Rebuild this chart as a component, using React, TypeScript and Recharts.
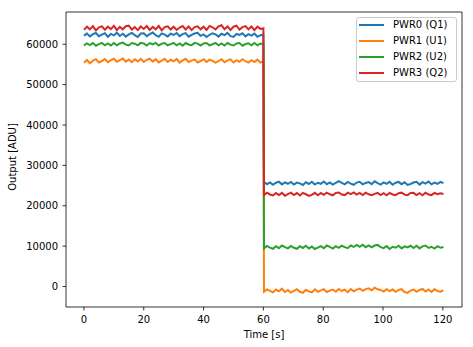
import React from 'react';
import {
    LineChart,
    Line,
    XAxis,
    YAxis,
    Legend,
    ReferenceArea,
} from 'recharts';

// series names and colours (matplotlib tab10)
const seriesNames = ['PWR0 (Q1)', 'PWR1 (U1)', 'PWR2 (U2)', 'PWR3 (Q2)'];
const seriesColors = ['#1f77b4', '#ff7f0e', '#2ca02c', '#d62728'];

const xTicks = [0, 20, 40, 60, 80, 100, 120];
const yTicks = [0, 10000, 20000, 30000, 40000, 50000, 60000];

// sample times [s]: first block 0..60, second block after the step
const timeBefore = [
    0, 1, 2, 3, 4, 5, 6, 7, 8, 9,
    10, 11, 12, 13, 14, 15, 16, 17, 18, 19,
    20, 21, 22, 23, 24, 25, 26, 27, 28, 29,
    30, 31, 32, 33, 34, 35, 36, 37, 38, 39,
    40, 41, 42, 43, 44, 45, 46, 47, 48, 49,
    50, 51, 52, 53, 54, 55, 56, 57, 58, 59,
    60,
];
const timeAfter = [
    60.2, 61.2, 62.2, 63.2, 64.2, 65.2, 66.2, 67.2, 68.2, 69.2,
    70.2, 71.2, 72.2, 73.2, 74.2, 75.2, 76.2, 77.2, 78.2, 79.2,
    80.2, 81.2, 82.2, 83.2, 84.2, 85.2, 86.2, 87.2, 88.2, 89.2,
    90.2, 91.2, 92.2, 93.2, 94.2, 95.2, 96.2, 97.2, 98.2, 99.2,
    100.2, 101.2, 102.2, 103.2, 104.2, 105.2, 106.2, 107.2, 108.2, 109.2,
    110.2, 111.2, 112.2, 113.2, 114.2, 115.2, 116.2, 117.2, 118.2, 119.2,
    120.2,
];

const pwr0Before = [
    62150, 62650, 61950, 62500, 62800, 62000, 62400, 62750, 61850, 62550,
    62200, 62850, 62050, 62600, 61900, 62450, 62800, 62250, 61800, 62650,
    62700, 62000, 62500, 62900, 62250, 61850, 62700, 62400, 61900, 62600,
    62300, 62800, 62000, 62500, 62750, 61900, 62350, 62650, 62850, 62100,
    62450, 61800, 62350, 62700, 62450, 61900, 62600, 62250, 62800, 62000,
    61800, 62550, 62300, 62700, 61950, 62500, 62150, 62650, 61850, 62250,
    62400,
];
const pwr0After = [
    25950, 25350, 25800, 25200, 25700, 25950, 25300, 25800, 25450, 25900,
    25250, 25750, 25550, 25150, 25850, 25400, 25950, 25250, 25700, 25450,
    26000, 25350, 25800, 25250, 25650, 26100, 25700, 25300, 25900, 25500,
    25200, 25750, 25950, 25300, 25650, 25850, 25350, 26050, 25600, 25250,
    25800, 25450, 25950, 25200, 25700, 25900, 25350, 25800, 25150, 25400,
    25750, 25950, 25250, 25850, 25500, 26000, 25300, 25750, 25450, 25900,
    25600,
];

const pwr1Before = [
    55450, 56100, 55300, 55950, 56300, 55500, 55850, 56350, 55550, 56050,
    56400, 55650, 56050, 56450, 55700, 56200, 55550, 56300, 55750, 56400,
    55600, 56150, 56450, 55700, 56300, 55500, 55950, 56400, 55600, 56150,
    55750, 56350, 55450, 56000, 56400, 55600, 55950, 56250, 55500, 55850,
    56300, 55600, 56200, 55900, 55450, 55850, 56300, 55550, 56000, 56250,
    55500, 56050, 55650, 56300, 55800, 55450, 56050, 55600, 56200, 55500,
    55850,
];
const pwr1After = [
    -1300, -700, -1100, -1450, -750, -1200, -550, -1350, -850, -1500,
    -1050, -650, -1300, -1550, -800, -1200, -1450, -700, -1300, -950,
    -650, -1350, -1000, -750, -1300, -600, -1100, -800, -1400, -650,
    -1200, -750, -500, -1050, -650, -450, -950, -300, -700, -850,
    -1250, -650, -1150, -750, -1300, -850, -650, -1350, -1550, -1000,
    -750, -1300, -850, -600, -1250, -750, -1350, -650, -1100, -1300,
    -950,
];

const pwr2Before = [
    59750, 60200, 59800, 60300, 59650, 60050, 60350, 59750, 60200, 59700,
    60300, 59750, 60200, 60400, 59900, 59700, 60300, 60150, 59750, 60350,
    60200, 59700, 60300, 59950, 60350, 59700, 60150, 60300, 59750, 60050,
    60350, 59750, 60200, 59650, 60300, 59950, 59750, 60350, 60150, 59700,
    60200, 60300, 59750, 60000, 60350, 59750, 60200, 59700, 60300, 59900,
    59700, 60200, 60300, 59650, 60050, 60250, 59750, 60300, 59750, 60200,
    60000,
];
const pwr2After = [
    9450, 10050, 9650, 9350, 10000, 9500, 10150, 9750, 9450, 10050,
    9600, 9350, 10000, 9550, 10100, 9400, 9900, 9300, 9650, 10000,
    9500, 10150, 9800, 9400, 10000, 9600, 10100, 9750, 9500, 10150,
    9800, 10300, 9850, 10350, 9750, 10200, 9700, 10150, 10300, 9750,
    9500, 10050, 9300, 9850, 9600, 10100, 9450, 9950, 9700, 10100,
    9550, 10100, 9450, 9950, 10150, 9550, 9850, 9400, 10000, 9600,
    9800,
];

const pwr3Before = [
    63550, 64350, 63700, 64500, 63450, 64200, 64450, 63600, 64350, 63750,
    64550, 63500, 64300, 63700, 64450, 64600, 63650, 64250, 63500, 64400,
    63800, 64500, 63550, 64300, 63700, 64550, 63450, 64250, 64450, 63650,
    64350, 63550, 64150, 64500, 63650, 64400, 63500, 64250, 64450, 63700,
    64350, 63550, 64550, 64200, 63650, 64450, 64700, 63700, 64400, 63550,
    64350, 64600, 63650, 64250, 64500, 63700, 64400, 63500, 64350, 63800,
    63950,
];
const pwr3After = [
    22650, 23250, 22800, 22550, 23150, 22650, 23200, 22500, 22900, 23250,
    22650, 23150, 22550, 23200, 22850, 22450, 22700, 23200, 22600, 23150,
    22700, 23250, 22850, 22600, 23200, 23300, 22800, 22650, 23250, 22900,
    23300, 22750, 23200, 22650, 23250, 22850, 22600, 22950, 23200, 22650,
    23100, 22600, 23200, 22800, 22650, 23100, 23250, 22750, 22600, 23150,
    23200, 22650, 23100, 22600, 23250, 22800, 22650, 23200, 22850, 23100,
    22900,
];

const xDomain = [-6, 126.4];
const yDomain = [-5070, 67990];

const data = [
    ...timeBefore.map((t, i) => ({
        t,
        p0: pwr0Before[i],
        p1: pwr1Before[i],
        p2: pwr2Before[i],
        p3: pwr3Before[i],
    })),
    ...timeAfter.map((t, i) => ({
        t,
        p0: pwr0After[i],
        p1: pwr1After[i],
        p2: pwr2After[i],
        p3: pwr3After[i],
    })),
];

const keys = ['p0', 'p1', 'p2', 'p3'];
const font = '"DejaVu Sans", sans-serif';

const LegendBox = () => (
    <div
        style={{
            position: 'relative',
            width: 99,
            height: 63,
            border: '1px solid #cccccc',
            borderRadius: 3,
            background: 'rgba(255,255,255,0.8)',
            fontFamily: font,
            fontSize: 10,
            color: '#000',
            boxSizing: 'content-box',
        }}
    >
        {seriesNames.map((name, i) => (
            <div
                key={name}
                style={{
                    position: 'absolute',
                    left: 0,
                    top: 0.4 + i * 15.8,
                    height: 14,
                    display: 'flex',
                    alignItems: 'center',
                }}
            >
                <svg width={36} height={14} style={{ display: 'block' }}>
                    <line x1={2} x2={27} y1={7} y2={7} stroke={seriesColors[i]} strokeWidth={2} />
                </svg>
                <span style={{ whiteSpace: 'nowrap', lineHeight: '14px' }}>{name}</span>
            </div>
        ))}
    </div>
);

const App = () => {
    return (
        <div style={{ position: 'absolute', left: 0, top: 0, width: 473, height: 347, background: '#fff' }}>
            <LineChart
                width={473}
                height={347}
                data={data}
                margin={{ top: 12, right: 11, bottom: 15, left: 10 }}
            >
                <XAxis
                    dataKey="t"
                    type="number"
                    domain={xDomain}
                    ticks={xTicks}
                    allowDataOverflow
                    height={25}
                    tickSize={3.5}
                    tickMargin={5}
                    axisLine={false}
                    tickLine={{ stroke: '#000', strokeWidth: 0.8 }}
                    tick={{ fontSize: 10, fontFamily: font, fill: '#000' }}
                    label={{
                        content: () => (
                            <text x={264} y={338} textAnchor="middle" fontSize={10} fontFamily={font} fill="#000">
                                Time [s]
                            </text>
                        ),
                    }}
                />
                <YAxis
                    type="number"
                    domain={yDomain}
                    ticks={yTicks}
                    allowDataOverflow
                    width={56}
                    tickSize={3.5}
                    tickMargin={4.5}
                    axisLine={false}
                    tickLine={{ stroke: '#000', strokeWidth: 0.8 }}
                    tick={{ fontSize: 10, fontFamily: font, fill: '#000' }}
                    label={{
                        content: () => (
                            <text
                                x={16}
                                y={157}
                                textAnchor="middle"
                                fontSize={10}
                                fontFamily={font}
                                fill="#000"
                                transform="rotate(-90, 16, 157)"
                            >
                                Output [ADU]
                            </text>
                        ),
                    }}
                />
                {keys.map((k, i) => (
                    <Line
                        key={k}
                        type="linear"
                        dataKey={k}
                        name={seriesNames[i]}
                        stroke={seriesColors[i]}
                        strokeWidth={2}
                        dot={false}
                        activeDot={false}
                        isAnimationActive={false}
                    />
                ))}
                <ReferenceArea
                    x1={xDomain[0]}
                    x2={xDomain[1]}
                    y1={yDomain[0]}
                    y2={yDomain[1]}
                    fill="none"
                    stroke="#000"
                    strokeWidth={0.8}
                    fillOpacity={0}
                />
                <Legend
                    layout="horizontal"
                    align="center"
                    verticalAlign="middle"
                    content={() => <LegendBox />}
                    wrapperStyle={{ position: 'absolute', left: 356, top: 17, width: 101, height: 65 }}
                />
            </LineChart>
        </div>
    );
};

export default App;
